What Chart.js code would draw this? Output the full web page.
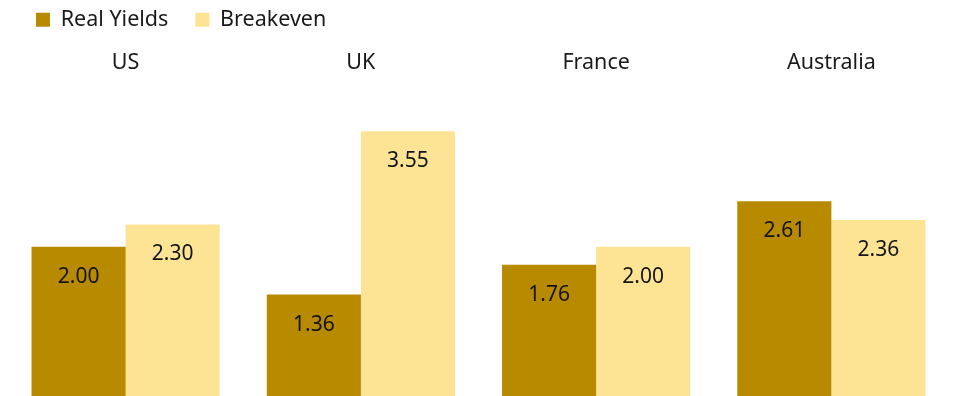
<!DOCTYPE html>
<html>
<head>
<meta charset="utf-8">
<script src="https://cdn.jsdelivr.net/npm/chart.js@4/dist/chart.umd.min.js"></script>
<style>
  html, body { margin: 0; padding: 0; background: #ffffff; }
  #wrap { width: 953px; height: 396px; }
</style>
</head>
<body>
<div id="wrap"><canvas id="c" width="953" height="396"></canvas></div>
<script>
// Inflation-linked bond yields split into real yield and breakeven, by market
const countries = ['US', 'UK', 'France', 'Australia'];
const realYields = [2.00, 1.36, 1.76, 2.61];
const breakeven = [2.30, 3.55, 2.00, 2.36];

const FONT = 'Noto Sans';

// Writes each bar's value just inside its top edge
const barValueLabels = {
  id: 'barValueLabels',
  afterDatasetsDraw(chart) {
    const ctx = chart.ctx;
    ctx.save();
    ctx.font = '21px "' + FONT + '"';
    ctx.fillStyle = '#141414';
    ctx.textAlign = 'center';
    ctx.textBaseline = 'middle';
    chart.data.datasets.forEach((ds, di) => {
      chart.getDatasetMeta(di).data.forEach((bar, i) => {
        ctx.fillText(ds.data[i].toFixed(2), bar.x, bar.y + 30);
      });
    });
    ctx.restore();
  }
};

// Nudges the legend row into the top-left corner
const legendPlacement = {
  id: 'legendPlacement',
  afterLayout(chart) {
    const lg = chart.legend;
    if (!lg) return;
    lg.left = 9;
    lg.top = -18;
  }
};

new Chart(document.getElementById('c'), {
  type: 'bar',
  data: {
    labels: countries,
    datasets: [
      { label: 'Real Yields', data: realYields, backgroundColor: '#b88a00' },
      { label: 'Breakeven', data: breakeven, backgroundColor: '#fde495' }
    ]
  },
  options: {
    responsive: false,
    animation: false,
    layout: { padding: { top: -9, left: 8, right: 4, bottom: 0 } },
    datasets: { bar: { categoryPercentage: 0.8, barPercentage: 1.0 } },
    plugins: {
      legend: {
        position: 'top',
        align: 'start',
        labels: {
          boxWidth: 14,
          boxHeight: 14,
          padding: 27,
          color: '#1a1a1a',
          font: { family: FONT, size: 21.5 }
        }
      },
      tooltip: { enabled: false }
    },
    scales: {
      x: {
        position: 'top',
        grid: { display: false, drawTicks: false, tickLength: 0 },
        border: { display: false },
        ticks: {
          padding: 0,
          color: '#1a1a1a',
          font: { family: FONT, size: 21.5 }
        }
      },
      y: {
        display: false,
        min: 0,
        max: 4.3
      }
    }
  },
  plugins: [barValueLabels, legendPlacement]
});
</script>
</body>
</html>
